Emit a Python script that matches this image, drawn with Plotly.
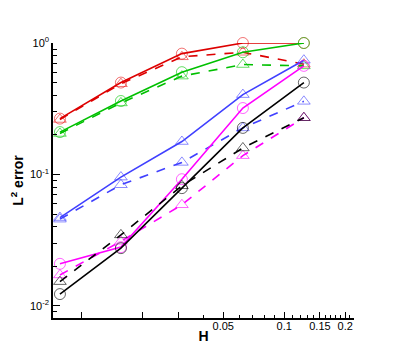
import numpy as np
import plotly.graph_objects as go

H = [1 / 128, 1 / 64, 1 / 32, 1 / 16, 1 / 8]

red_solid = [0.266, 0.50, 0.83, 1.0, 1.0]
red_dash = [0.262, 0.49, 0.785, 0.85, 0.69]
green_solid = [0.21, 0.362, 0.60, 0.85, 1.0]
green_dash = [0.205, 0.35, 0.56, 0.686, 0.67]
blue_solid = [0.047, 0.0955, 0.178, 0.405, 0.74]
blue_dash = [0.0457, 0.0835, 0.1235, 0.226, 0.36]
magenta_solid = [0.0209, 0.028, 0.092, 0.32, 0.67]
magenta_dash = [0.0172, 0.031, 0.0588, 0.139, 0.27]
black_solid = [0.0123, 0.0275, 0.0787, 0.226, 0.50]
black_dash = [0.0153, 0.0347, 0.082, 0.159, 0.27]

x_tickvals = [0.05, 0.1, 0.15, 0.2]
x_ticktext = ["0.05", "0.1", "0.15", "0.2"]
x_unlabelled = [0.01, 0.02, 0.03]
x_minor = [0.04, 0.06, 0.07, 0.08, 0.09, 0.11, 0.12, 0.13, 0.14,
           0.16, 0.17, 0.18, 0.19, 0.21, 0.22]
y_tickvals = [0.01, 0.1, 1.0]
y_ticktext = ["10<sup>-2</sup>", "10<sup>-1</sup>", "10<sup>0</sup>"]
y_minor = [m * d for d in (0.001, 0.01, 0.1) for m in range(2, 10)]

series = [
    (red_solid, "#dd0000", "solid", "circle-open", "rgba(230,0,0,0.55)"),
    (red_dash, "#dd0000", "dash", "triangle-up-open", "rgba(230,0,0,0.55)"),
    (green_solid, "#00c000", "solid", "circle-open", "rgba(0,200,0,0.6)"),
    (green_dash, "#00c000", "dash", "triangle-up-open", "rgba(0,200,0,0.6)"),
    (blue_solid, "#4040ff", "solid", "triangle-up-open", "rgba(64,64,255,0.6)"),
    (blue_dash, "#4040ff", "dash", "triangle-up-open", "rgba(64,64,255,0.6)"),
    (magenta_solid, "#ff00ff", "solid", "circle-open", "rgba(255,0,255,0.6)"),
    (magenta_dash, "#ff00ff", "dash", "triangle-up-open", "rgba(255,0,255,0.6)"),
    (black_solid, "#000000", "solid", "circle-open", "rgba(0,0,0,0.6)"),
    (black_dash, "#000000", "dash", "triangle-up-open", "rgba(0,0,0,0.6)"),
]

x_range = [np.log10(0.00722), np.log10(0.221)]

fig = go.Figure()
for vals, color, dash, symbol, mcolor in series:
    fig.add_trace(
        go.Scatter(
            x=H,
            y=vals,
            mode="lines+markers",
            line=dict(color=color, width=1.6, dash=dash),
            marker=dict(symbol=symbol, size=11, color=mcolor,
                        line=dict(width=1)),
            cliponaxis=False,
            showlegend=False,
        )
    )

fig.update_xaxes(
    type="log",
    range=x_range,
    automargin=False,
    tickvals=x_tickvals,
    ticktext=x_ticktext,
    ticks="inside",
    ticklen=6,
    tickwidth=1.3,
    tickcolor="black",
    ticklabelstandoff=-3,
    minor=dict(tickvals=x_minor, ticks="inside", ticklen=3, tickcolor="black"),
    showline=True,
    linecolor="black",
    linewidth=1.5,
    showgrid=False,
    zeroline=False,
    title=dict(text="<b>H</b>", font=dict(size=14), standoff=0),
)
fig.update_yaxes(
    type="log",
    range=[-2.092, 0],
    automargin=False,
    tickvals=y_tickvals,
    ticktext=y_ticktext,
    ticks="inside",
    ticklen=7,
    tickwidth=1.3,
    tickcolor="black",
    minor=dict(tickvals=y_minor, ticks="inside", ticklen=4, tickcolor="black"),
    showline=True,
    linecolor="black",
    linewidth=1.5,
    showgrid=False,
    zeroline=False,
    title=dict(text="<b>L<sup>2</sup> error</b>", font=dict(size=14), standoff=4),
)

# the page body adds an 8px offset, so the figure is a bit smaller
fig.update_layout(
    xaxis2=dict(
        type="log",
        range=x_range,
        overlaying="x",
        side="bottom",
        automargin=False,
        tickvals=x_unlabelled,
        showticklabels=False,
        ticks="inside",
        ticklen=6,
        tickwidth=1.3,
        tickcolor="black",
        showgrid=False,
        zeroline=False,
        showline=False,
    ),
    width=395,
    height=351,
    margin=dict(l=45, r=49, t=35, b=41),
    paper_bgcolor="white",
    plot_bgcolor="white",
    font=dict(family="Liberation Sans, Arial", size=11, color="black"),
    showlegend=False,
)
# empty trace so the overlay axis is drawn
fig.add_trace(go.Scatter(x=[], y=[], xaxis="x2", showlegend=False))

fig.write_html("out.html")
